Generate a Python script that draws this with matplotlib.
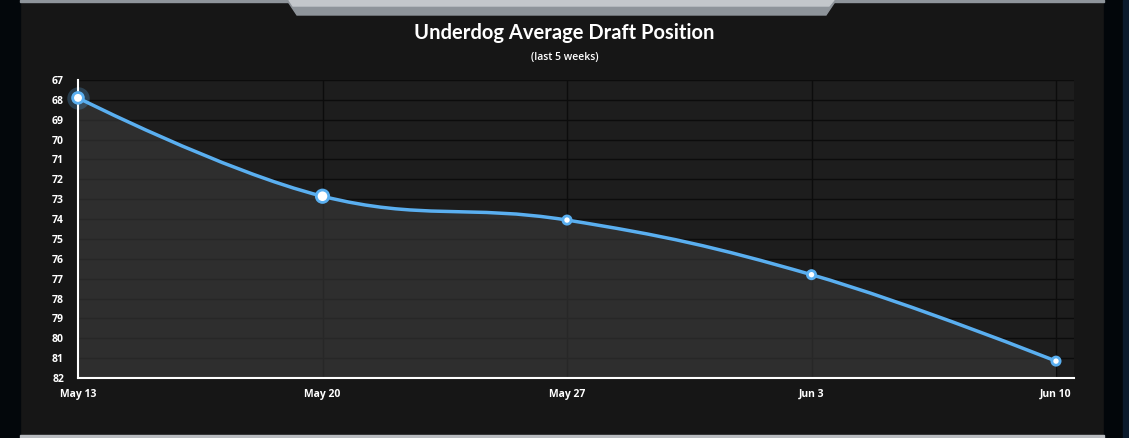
import matplotlib
matplotlib.use('Agg')
import matplotlib.pyplot as plt
from matplotlib.patches import Rectangle, Polygon, PathPatch
from matplotlib.path import Path
import numpy as np

# 数据
weeks = ['May 13', 'May 20', 'May 27', 'Jun 3', 'Jun 10']
adp = [67.9, 72.85, 74.05, 76.8, 81.15]
y_ticks = list(range(67, 83))

title = 'Underdog Average Draft Position'
subtitle = '(last 5 weeks)'

BG = '#161616'
PLOT_BG = '#1d1d1d'
LINE = '#5aaff0'


def spline_path(xs, ys, smoothing=1.5):
    """Highcharts 风格的平滑曲线"""
    n = len(xs)
    verts = [(xs[0], ys[0])]
    codes = [Path.MOVETO]
    ctrl = []
    for i in range(n):
        if i == 0 or i == n - 1:
            ctrl.append(((xs[i], ys[i]), (xs[i], ys[i])))
            continue
        d = smoothing + 1
        lx = (smoothing * xs[i] + xs[i - 1]) / d
        ly = (smoothing * ys[i] + ys[i - 1]) / d
        rx = (smoothing * xs[i] + xs[i + 1]) / d
        ry = (smoothing * ys[i] + ys[i + 1]) / d
        if rx != lx:
            corr = (ry - ly) * (rx - xs[i]) / (rx - lx) + ys[i] - ry
            ly += corr
            ry += corr
        ctrl.append(((lx, ly), (rx, ry)))
    for i in range(1, n):
        verts += [ctrl[i - 1][1], ctrl[i][0], (xs[i], ys[i])]
        codes += [Path.CURVE4] * 3
    return verts, codes


fig = plt.figure(figsize=(11.29, 4.38), dpi=100)
fig.patch.set_facecolor(BG)

# 背景装饰
deco = fig.add_axes([0, 0, 1, 1], zorder=0)
deco.set_xlim(0, 1129)
deco.set_ylim(438, 0)
deco.axis('off')
deco.add_patch(Rectangle((0, 0), 20, 438, color='#03070b'))
deco.add_patch(Rectangle((1104, 0), 25, 438, color='#02060a'))
deco.add_patch(Rectangle((1123, 0), 6, 438, color='#0b1a2c'))
deco.add_patch(Rectangle((20, 0), 1084, 1.5, color='#8f959b'))
deco.add_patch(Rectangle((20, 435), 1084, 3, color='#b9bcc0'))
deco.add_patch(Polygon([(287, 0), (836, 0), (826, 15), (297, 15)], closed=True, color='#8e949a'))
deco.add_patch(Polygon([(289, 0), (834, 0), (829, 6), (293, 6)], closed=True, color='#c3c7cb'))

fig.text(0.5, 1 - 33 / 438, title, ha='center', va='center', color='white',
         fontsize=14.5, family='Lato', fontweight='bold')
fig.text(0.5, 1 - 57 / 438, subtitle, ha='center', va='center', color='white',
         fontsize=7.5, family='Open Sans', fontweight='semibold')

ax = fig.add_axes([78 / 1129, 60 / 438, 996 / 1129, 298 / 438], zorder=1)
ax.set_facecolor(PLOT_BG)
x = np.arange(len(weeks))
ax.set_xlim(0, 4 + 18 / 244.5)
ax.set_ylim(82, 67)

ax.set_yticks(y_ticks)
ax.set_yticklabels([str(t) for t in y_ticks])
ax.set_xticks(x)
ax.set_xticklabels(weeks)
ax.tick_params(length=0, colors='white', labelsize=7.5)
for lab in ax.get_xticklabels() + ax.get_yticklabels():
    lab.set_fontweight('bold')
    lab.set_family('Open Sans')
ax.tick_params(axis='x', pad=8)
ax.tick_params(axis='y', pad=10)

ax.grid(True, color='#0c0c0c', linewidth=1)
for s in ['top', 'right']:
    ax.spines[s].set_visible(False)
for s in ['left', 'bottom']:
    ax.spines[s].set_color('white')
    ax.spines[s].set_linewidth(1.5)
    ax.spines[s].set_zorder(5)

verts, codes = spline_path(list(x), adp)
# 填充区域（半透明，网格线透出）
fill_verts = verts + [(x[-1], 82), (x[0], 82), verts[0]]
fill_codes = codes + [Path.LINETO, Path.LINETO, Path.CLOSEPOLY]
ax.add_patch(PathPatch(Path(fill_verts, fill_codes), facecolor='#3a3a3a',
                       edgecolor='none', alpha=0.6, zorder=2.5))
ax.add_patch(PathPatch(Path(verts, codes), facecolor='none', edgecolor=LINE,
                       linewidth=2.5, zorder=3))

# 悬停光晕
ax.scatter(x[:1], adp[:1], s=260, color=LINE, alpha=0.25, zorder=4,
           linewidths=0, clip_on=False)
sizes = [60, 80, 35, 35, 35]
ax.scatter(x, adp, s=sizes, facecolor='white', edgecolor=LINE, linewidths=2,
           zorder=6, clip_on=False)

fig.savefig('out.png', dpi=100, facecolor=BG)
